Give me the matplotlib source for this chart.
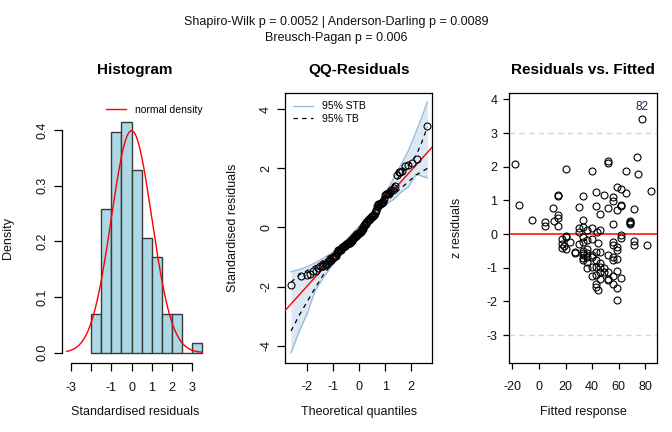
import numpy as np
import matplotlib
matplotlib.use("Agg")
import matplotlib.pyplot as plt
from statistics import NormalDist

plt.rcParams['font.family'] = ['Liberation Sans', 'DejaVu Sans']
plt.rcParams['axes.unicode_minus'] = False

# ---------------- data ----------------
fitted = [-18, -14.75, -5.25, 4.75, 4.75, 10.75, 11.25, 14, 14, 14,
          14, 14, 20, 17.25, 17.25, 17.25, 20.25, 20.25, 20.25, 23.25,
          27, 27, 30.25, 30.25, 30.25, 30.25, 32.75, 32.75, 33.25, 32.75,
          32.75, 32.75, 32.75, 32.75, 32.75, 35.75, 35.75, 35.75, 35.75, 35.75,
          35.75, 39.5, 39.5, 39.5, 39.5, 39.5, 39.5, 39.5, 42.75, 42.75,
          43.25, 42.75, 42.75, 42.75, 42.75, 42.75, 42.75, 45.75, 45.75, 45.75,
          45.75, 45.75, 45.75, 45.75, 49, 49, 49, 52.25, 52.25, 52.25,
          52.25, 52.25, 52.25, 52.25, 55.5, 55.5, 55.5, 55.5, 55.5, 55.5,
          55.5, 55.5, 55.5, 58.5, 58.5, 58.5, 58.5, 58.5, 58.5, 58.5,
          58.5, 62, 62, 62, 62, 62, 62, 65.25, 65.25, 68.25,
          68.25, 68.25, 71.25, 71.25, 71.25, 74, 74.75, 77.75, 81.25, 84,
          44, 33, 19, 36, 44, 68.5]
resid = [2.08, 0.86, 0.43, 0.35, 0.24, 0.79, 0.39, 1.16, 1.13, 0.56,
         0.48, 0.25, 1.92, -0.14, -0.28, -0.41, -0.06, -0.10, -0.45, -0.22,
         -0.52, -0.57, 0.81, 0.17, 0.07, -0.28, 1.13, 0.42, 0.22, -0.08,
         -0.23, -0.51, -0.62, -0.72, -0.77, 0.12, -0.18, -0.57, -0.67, -0.82,
         -1.02, 1.87, 0.17, -0.16, -0.62, -0.67, -0.97, -1.25, 1.26, 0.83,
         0.07, -0.52, -0.77, -0.97, -1.22, -1.47, -1.56, 0.60, 0.12, -0.52,
         -0.85, -0.97, -1.12, -1.32, 1.16, -1.02, -1.12, 2.17, 2.10, 0.78,
         -0.62, -1.12, -1.32, -1.37, 1.11, 0.98, 0.30, -0.23, -0.33, -0.67,
         -0.77, -1.25, -1.47, 1.41, 0.73, -0.38, -0.48, -0.75, -1.09, -1.61,
         -1.96, 1.33, 0.86, 0.83, -0.03, -0.11, -1.29, 1.88, 1.21, 0.37,
         0.32, 0.30, 0.74, -0.20, -0.31, 2.30, 1.79, 3.42, -0.32, 1.28,
         -1.65, -0.55, -0.35, -0.45, -0.25, 0.40]
outlier_label = "82"

hist_breaks = [-2.0, -1.5, -1.0, -0.5, 0.0, 0.5, 1.0, 1.5, 2.0, 2.5, 3.0, 3.5]
hist_xticks = [-3, -2, -1, 0, 1, 2, 3]
hist_xticklabels = ["-3", "", "-1", "0", "1", "2", "3"]
hist_yticks = [0.0, 0.1, 0.2, 0.3, 0.4]
hist_yticklabels = ["0.0", "0.1", "0.2", "0.3", "0.4"]
density_range = [-3.2, 3.5]

band_q = [-2.63, -2.3, -2.0, -1.7, -1.4, -1.1, -0.8, -0.5, -0.2, 0.1,
          0.4, 0.7, 1.0, 1.3, 1.6, 1.9, 2.2, 2.4, 2.63]
stb_hi = [-1.50, -1.42, -1.32, -1.20, -1.05, -0.88, -0.66, -0.42, -0.14, 0.14,
          0.44, 0.76, 1.12, 1.62, 2.10, 2.60, 3.25, 3.70, 4.25]
stb_lo = [-4.24, -3.49, -2.90, -2.14, -1.72, -1.36, -1.00, -0.70, -0.42, -0.14,
          0.14, 0.46, 0.76, 0.93, 1.18, 1.37, 1.80, 1.74, 1.68]
tb_hi = [-1.85, -1.60, -1.45, -1.30, -1.12, -0.92, -0.70, -0.46, -0.18, 0.10,
         0.40, 0.72, 1.06, 1.42, 1.80, 2.10, 2.45, 2.85, 3.40]
tb_lo = [-3.50, -2.95, -2.50, -2.05, -1.62, -1.28, -0.95, -0.66, -0.38, -0.10,
         0.18, 0.50, 0.82, 1.08, 1.32, 1.55, 1.78, 1.88, 2.00]

qq_xticks = [-2, -1, 0, 1, 2]
qq_yticks = [-4, -2, 0, 2, 4]
res_xticks = [-20, 0, 20, 40, 60, 80]
res_yticks = [-3, -2, -1, 0, 1, 2, 3, 4]
res_guides = [3, -3]

suptitle_lines = ["Shapiro-Wilk p = 0.0052 | Anderson-Darling p = 0.0089",
                  "Breusch-Pagan p = 0.006"]

# ---------------- figure ----------------
W, H = 672, 432
fig = plt.figure(figsize=(W / 100, H / 100), dpi=100)


def add_ax(l, r, t, b):
    return fig.add_axes([l / W, 1 - b / H, (r - l) / W, (b - t) / H])


FS = 9
TXT = '#111111'

# Histogram
ax1 = add_ax(62, 208, 113, 363)
ax1.hist(resid, bins=hist_breaks, density=True, facecolor='#ADD8E6',
         edgecolor='#3a3a3a', linewidth=1.0)
xs = np.linspace(density_range[0], density_range[1], 300)
nd = NormalDist(0, 1)
ax1.plot(xs, [nd.pdf(v) for v in xs], color='red', lw=1.0, label='normal density')
ax1.set_xlim(-3.44, 3.78)
ax1.set_ylim(-0.0185, 0.4306)
for s in ['top', 'right']:
    ax1.spines[s].set_visible(False)
ax1.spines['bottom'].set_bounds(hist_xticks[0], hist_xticks[-1])
ax1.spines['left'].set_bounds(hist_yticks[0], hist_yticks[-1])
ax1.set_xticks(hist_xticks)
ax1.set_xticklabels(hist_xticklabels)
ax1.set_yticks(hist_yticks)
ax1.set_yticklabels(hist_yticklabels, rotation=90, va='center')
ax1.legend(loc='center left', bbox_to_anchor=(0.30, 1.012), frameon=False,
           fontsize=7.5, handlelength=1.9, handletextpad=0.9,
           borderpad=0, borderaxespad=0)

# QQ plot
ax2 = add_ax(285.3, 432.3, 92.7, 362.7)
n = len(resid)
theo = [nd.inv_cdf((i + 0.5) / n) for i in range(n)]
samp = np.sort(resid)
ax2.fill_between(band_q, stb_lo, stb_hi, color='#DCE8F4', lw=0, zorder=1)
ax2.plot(band_q, stb_lo, color='#8DB9DE', lw=0.9, zorder=2, label='95% STB')
ax2.plot(band_q, stb_hi, color='#8DB9DE', lw=0.9, zorder=2)
ax2.plot(band_q, tb_lo, color='black', lw=0.9, ls=(0, (3.5, 3.5)), zorder=3, label='95% TB')
ax2.plot(band_q, tb_hi, color='black', lw=0.9, ls=(0, (3.5, 3.5)), zorder=3)
q1, q3 = np.quantile(samp, [0.25, 0.75])
t1, t3 = nd.inv_cdf(0.25), nd.inv_cdf(0.75)
slope = (q3 - q1) / (t3 - t1)
icpt = q1 - slope * t1
ax2.axline((0, icpt), slope=slope, color='red', lw=1.0, zorder=4)
ax2.plot(theo, samp, ls='none', marker='o', ms=5, mfc='none', mec='black',
         mew=0.8, zorder=5)
ax2.set_xlim(-2.85, 2.82)
ax2.set_ylim(-4.575, 4.56)
ax2.set_xticks(qq_xticks)
ax2.set_xticklabels([str(v) for v in qq_xticks])
ax2.set_yticks(qq_yticks)
ax2.set_yticklabels([str(v) for v in qq_yticks], rotation=90, va='center')
ax2.legend(loc='upper left', bbox_to_anchor=(0.05, 0.968), frameon=False,
           fontsize=7.5, handlelength=2.0, handletextpad=0.8,
           borderpad=0, borderaxespad=0, labelspacing=0.25)

# Residuals vs fitted
ax3 = add_ax(509.3, 656.7, 92.7, 362.7)
for g in res_guides:
    ax3.axhline(g, color='#D6D6D6', lw=1.0, ls=(0, (4, 3)), zorder=1)
ax3.axhline(0, color='red', lw=1.1, zorder=2)
ax3.plot(fitted, resid, ls='none', marker='o', ms=5, mfc='none', mec='black',
         mew=0.8, zorder=3)
k = int(np.argmax(resid))
ax3.annotate(outlier_label, (fitted[k], resid[k]), xytext=(0, 4),
             textcoords='offset points', ha='center', va='bottom',
             fontsize=8.5, color='#1a2a4a')
ax3.set_xlim(-22.3, 88.5)
ax3.set_ylim(-3.82, 4.2)
ax3.set_xticks(res_xticks)
ax3.set_xticklabels([str(v) for v in res_xticks])
ax3.set_yticks(res_yticks)
ax3.set_yticklabels([str(v) for v in res_yticks])

for ax in (ax1, ax2, ax3):
    ax.tick_params(direction='out', length=5.5, width=0.9, labelsize=FS,
                   colors='black', labelcolor=TXT)
    ax.tick_params(axis='x', pad=8)
    ax.tick_params(axis='y', pad=4)
    for s in ax.spines.values():
        s.set_linewidth(0.9)
ax3.tick_params(length=4.5)
ax3.tick_params(axis='x', pad=9)

# labels
ax1.set_xlabel('Standardised residuals', fontsize=FS, color=TXT)
ax1.xaxis.set_label_coords(0.5, (363 - 412) / 250)
ax1.set_ylabel('Density', fontsize=FS, color=TXT)
ax1.yaxis.set_label_coords((8 - 62) / 146, 0.5)
ax2.set_xlabel('Theoretical quantiles', fontsize=FS, color=TXT)
ax2.xaxis.set_label_coords(0.5, (362.7 - 412) / 270)
ax2.set_ylabel('Standardised residuals', fontsize=FS, color=TXT)
ax2.yaxis.set_label_coords((233 - 285.3) / 147, 0.5)
ax3.set_xlabel('Fitted response', fontsize=FS, color=TXT)
ax3.xaxis.set_label_coords(0.5, (362.7 - 412) / 270)
ax3.set_ylabel('z residuals', fontsize=FS, color=TXT)
ax3.yaxis.set_label_coords((457 - 509.3) / 147.4, 0.5)
for ax in (ax1, ax2, ax3):
    ax.xaxis.label.set_va('center')
    ax.yaxis.label.set_va('center')

# titles
for ax, t, cx in ((ax1, 'Histogram', 135), (ax2, 'QQ-Residuals', 358.8),
                  (ax3, 'Residuals vs. Fitted', 583)):
    fig.text(cx / W, 1 - 70 / H, t, ha='center', va='center',
             fontsize=11, fontweight='bold', color='black')

fig.text(336 / W, 1 - 22 / H, suptitle_lines[0], ha='center', va='center',
         fontsize=FS, color=TXT)
fig.text(336 / W, 1 - 38 / H, suptitle_lines[1], ha='center', va='center',
         fontsize=FS, color=TXT)

fig.savefig('out.png', dpi=100)
